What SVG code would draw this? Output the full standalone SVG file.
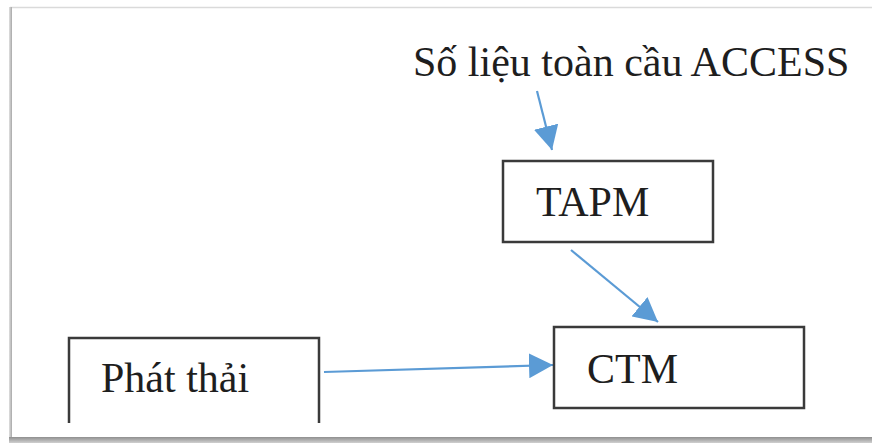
<svg xmlns="http://www.w3.org/2000/svg" width="872" height="443" viewBox="0 0 872 443">
  <defs>
    <style>
      .box { fill: #ffffff; stroke: #3a3a3a; stroke-width: 2.5; }
      .label { font-family: "Liberation Serif", "Times New Roman", serif; font-size: 42px; fill: #1e1e1e; }
      .conn { stroke: #5b9bd5; stroke-width: 2.2; fill: none; marker-end: url(#head); }
    </style>
    <marker id="head" viewBox="0 0 24 25" refX="24" refY="12.5" markerWidth="24" markerHeight="25" markerUnits="userSpaceOnUse" orient="auto">
      <path d="M0,0 L24,12.5 L0,25 Z" fill="#5b9bd5"/>
    </marker>
    <linearGradient id="bottomEdge" x1="0" y1="0" x2="0" y2="1">
      <stop offset="0" stop-color="#8f8f8f"/>
      <stop offset="1" stop-color="#d0d0d0"/>
    </linearGradient>
    <linearGradient id="leftEdge" x1="0" y1="0" x2="1" y2="0">
      <stop offset="0" stop-color="#e0e0e0"/>
      <stop offset="1" stop-color="#a8a8a8"/>
    </linearGradient>
  </defs>

  <!-- page background and frame -->
  <rect x="0" y="0" width="872" height="443" fill="#ffffff"/>
  <line x1="10" y1="7.5" x2="872" y2="7.5" stroke="#dadada" stroke-width="1.5"/>
  <rect x="9" y="7" width="3" height="432" fill="url(#leftEdge)"/>
  <rect x="9" y="437" width="863" height="6" fill="url(#bottomEdge)"/>

  <!-- connectors -->
  <g id="connectors">
    <line class="conn" x1="537" y1="91" x2="552" y2="150"/>
    <line class="conn" x1="571" y1="250" x2="658" y2="322"/>
    <line class="conn" x1="324" y1="372" x2="553" y2="365"/>
  </g>

  <!-- source label -->
  <g id="access">
    <text class="label" x="413" y="76">Số liệu toàn cầu ACCESS</text>
  </g>

  <g id="tapm">
    <rect class="box" x="503" y="161" width="210" height="81"/>
    <text class="label" x="536" y="216">TAPM</text>
  </g>

  <g id="ctm">
    <rect class="box" x="554" y="327" width="250" height="81"/>
    <text class="label" x="587" y="383">CTM</text>
  </g>

  <!-- emissions box, open at the bottom where the frame cuts it -->
  <g id="phat-thai">
    <path class="box" d="M69,423 L69,338 L319,338 L319,423"/>
    <text class="label" x="101" y="392">Phát thải</text>
  </g>
</svg>
